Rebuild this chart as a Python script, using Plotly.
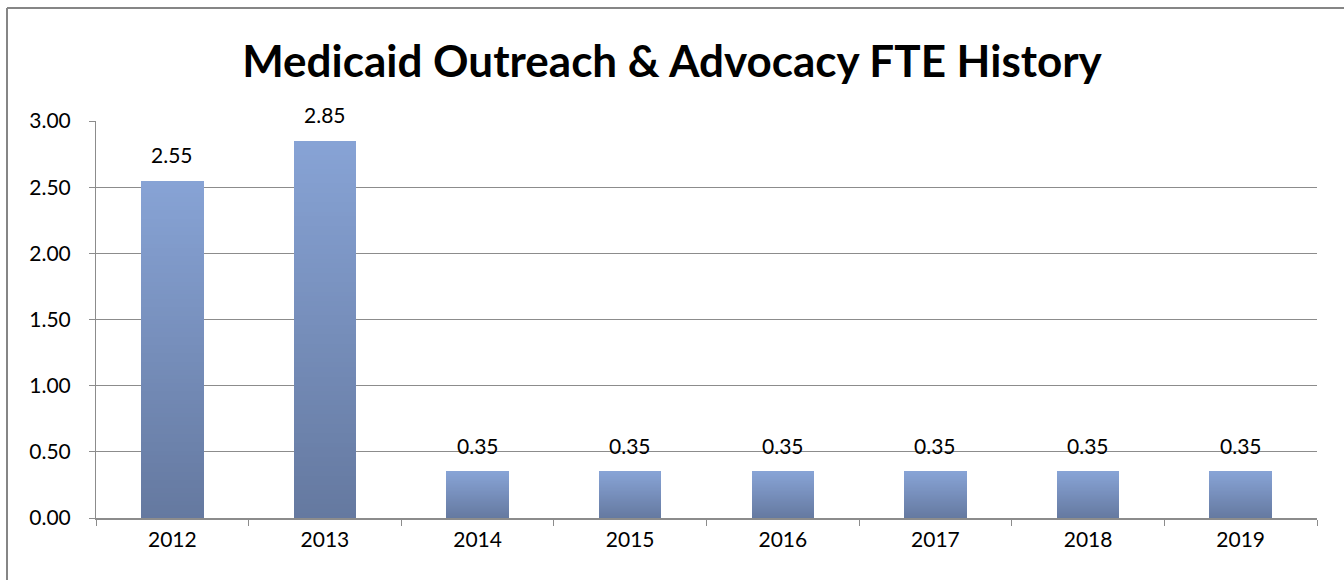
import plotly.graph_objects as go

# FTE per fiscal year
years = ["2012", "2013", "2014", "2015", "2016", "2017", "2018", "2019"]
fte = [2.55, 2.85, 0.35, 0.35, 0.35, 0.35, 0.35, 0.35]
y_ticks = [0.0, 0.5, 1.0, 1.5, 2.0, 2.5, 3.0]

TITLE = "Medicaid Outreach & Advocacy FTE History"
FONT = "Lato, Calibri, sans-serif"
GRID = "#8c8c8c"

# vertical gradient per bar: darker at the base, lighter at the top
BOTTOM_RGB = (101, 121, 160)
TOP_RGB = (135, 163, 213)
N_SLICES = 80

W, H = 1344, 580
ML, MR, MT, MB = 96, 27, 121, 62

fig = go.Figure()
for i in range(N_SLICES):
    t = i / (N_SLICES - 1)
    r, g, b = (round(BOTTOM_RGB[k] + (TOP_RGB[k] - BOTTOM_RGB[k]) * t) for k in range(3))
    fig.add_trace(go.Bar(
        x=years,
        y=[v / N_SLICES for v in fte],
        width=0.41,
        marker=dict(color=f"rgb({r},{g},{b})", line=dict(width=0)),
        hoverinfo="skip",
        showlegend=False,
    ))

# value labels above each bar (category axis positions are serial indices)
for idx, v in enumerate(fte):
    fig.add_annotation(
        x=idx, y=v, xref="x", yref="y",
        text=f"{v:.2f}", showarrow=False,
        yanchor="middle", yshift=26,
        font=dict(family=FONT, size=21, color="#000000"),
    )

# outer chart border (top and left edges fall inside the page)
pw, ph = W - ML - MR, H - MT - MB
bx0 = (7 - ML) / pw
by1 = 1 + (MT - 8) / ph
border = dict(color="#868686", width=2)
fig.add_shape(type="line", xref="paper", yref="paper",
              x0=bx0, x1=(W + 50 - ML) / pw, y0=by1, y1=by1, line=border)
fig.add_shape(type="line", xref="paper", yref="paper",
              x0=bx0, x1=bx0, y0=by1, y1=-(MB + 50) / ph, line=border)

fig.update_layout(
    width=W, height=H,
    margin=dict(l=ML, r=MR, t=MT, b=MB),
    barmode="stack",
    bargap=0,
    paper_bgcolor="white",
    plot_bgcolor="white",
    title=dict(
        text=f"<b>{TITLE}</b>",
        x=0.5, xref="container", xanchor="center",
        y=1 - 62 / H, yref="container", yanchor="middle",
        font=dict(family=FONT, size=44, color="#000000"),
    ),
    xaxis=dict(
        type="category",
        range=[-0.5, len(years) - 0.5],
        tickson="boundaries",
        ticks="outside", ticklen=6, tickcolor=GRID, tickwidth=1,
        showline=True, linecolor=GRID, linewidth=2,
        showgrid=False,
        tickangle=0,
        automargin=False,
        tickfont=dict(family=FONT, size=21, color="#000000"),
        ticklabelstandoff=2,
    ),
    yaxis=dict(
        range=[0, 3],
        tickvals=y_ticks,
        tickformat=".2f",
        ticks="outside", ticklen=6, tickcolor=GRID, tickwidth=1,
        showline=True, linecolor=GRID, linewidth=1,
        showgrid=True, gridcolor=GRID, gridwidth=1,
        zeroline=False,
        automargin=False,
        tickfont=dict(family=FONT, size=21, color="#000000"),
        ticklabelstandoff=14,
    ),
)

fig.write_html("out.html")
